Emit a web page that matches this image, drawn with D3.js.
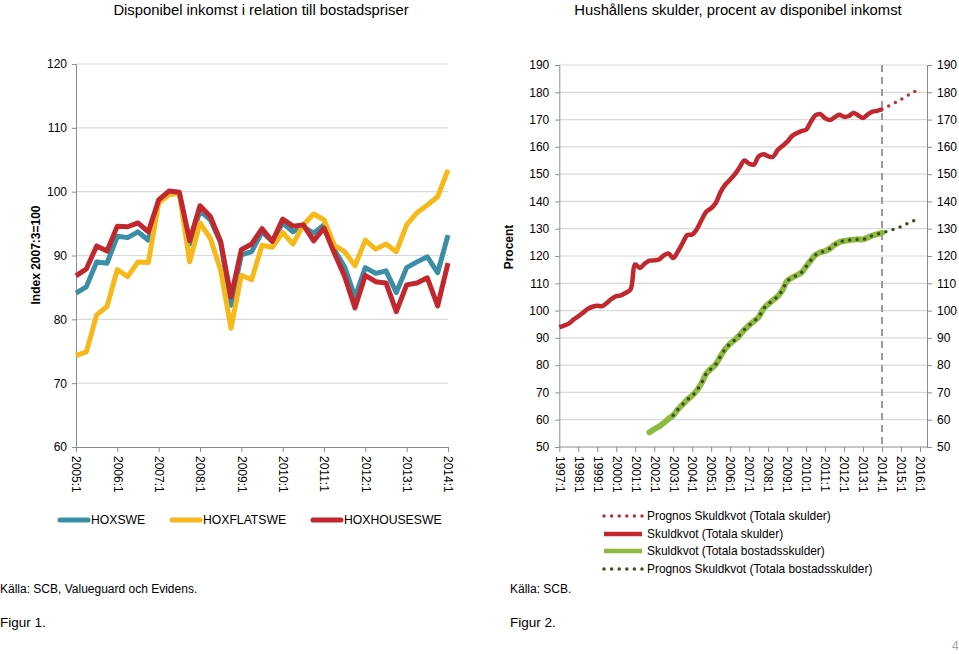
<!DOCTYPE html>
<html><head><meta charset="utf-8">
<script src="https://cdn.jsdelivr.net/npm/d3@7"></script>
<style>
body{margin:0;background:#fff;}
svg{font-family:"Liberation Sans",Arial,sans-serif;display:block;}
</style>
</head><body>
<svg id="chart" width="959" height="654"></svg>
<script>
// ---------- helpers for quarter categories ----------
function quarterRange(startYear, startQ, n){
  const out=[]; let y=startYear, q=startQ;
  for(let i=0;i<n;i++){ out.push(y+":"+q); q++; if(q>4){q=1;y++;} }
  return out;
}

// ---------- Figure 1 data (2005:1 .. 2014:1) ----------
const leftQuarters = quarterRange(2005,1,37);
const leftYearTicks = ["2005:1","2006:1","2007:1","2008:1","2009:1","2010:1","2011:1","2012:1","2013:1","2014:1"];
const leftYTicks = [60,70,80,90,100,110,120];
const hoxswe = [84.1,85.1,89.0,88.8,93.0,92.8,93.7,92.4,98.5,100.0,99.7,91.8,97.0,95.6,92.0,82.2,90.1,90.6,93.7,92.2,95.1,93.7,94.5,93.5,94.8,90.9,88.2,83.5,88.1,87.2,87.6,84.2,88.1,89.0,89.8,87.3,93.2];
const hoxflatswe = [74.3,74.9,80.7,82.0,87.8,86.7,89.0,88.9,98.2,99.5,99.8,89.0,95.1,92.7,87.7,78.6,86.9,86.2,91.6,91.3,93.6,91.8,94.8,96.5,95.6,91.6,90.6,88.4,92.4,91.0,91.8,90.6,94.8,96.7,97.9,99.2,103.4];
const hoxhouseswe = [86.8,87.9,91.5,90.7,94.6,94.5,95.1,93.7,98.7,100.1,99.9,92.3,97.8,96.1,92.2,83.5,90.9,91.8,94.2,92.2,95.7,94.6,94.8,92.3,94.3,90.4,86.7,81.8,86.9,85.9,85.7,81.2,85.4,85.7,86.5,82.1,88.8];
const leftSeriesNames = ["HOXSWE","HOXFLATSWE","HOXHOUSESWE"];

// ---------- Figure 2 data ----------
const rightQuarters = quarterRange(1997,1,80); // 1997:1 .. 2016:4
const rightYearTicks = ["1997:1","1998:1","1999:1","2000:1","2001:1","2002:1","2003:1","2004:1","2005:1","2006:1","2007:1","2008:1","2009:1","2010:1","2011:1","2012:1","2013:1","2014:1","2015:1","2016:1"];
const rightYTicks = [50,60,70,80,90,100,110,120,130,140,150,160,170,180,190];
// Skuldkvot (Totala skulder), 1997:1 .. 2014:1
const skuldStart = "1997:1";
const skuldkvotTotala = [93.9,94.5,95.2,96.7,97.9,99.2,100.6,101.4,101.8,101.6,102.8,104.3,105.3,105.6,106.5,107.7,
  116.9,115.6,117.2,118.3,118.4,118.7,120.2,120.9,119.3,121.7,124.8,127.7,127.9,129.9,133.3,136.3,137.5,139.5,
  143.5,146.2,148.0,150.0,152.5,155.0,153.8,153.5,156.5,157.3,156.6,156.3,158.8,160.3,161.8,163.9,165.0,165.8,166.3,169.2,
  171.6,172.0,170.5,169.8,170.8,171.8,171.0,171.3,172.4,171.5,170.6,171.9,172.9,173.2,173.7];
// Skuldkvot (Totala bostadsskulder), 2001:4 .. 2014:1
const bostadStart = "2001:4";
const skuldkvotBostad = [55.4,56.5,57.5,58.8,60.3,61.6,63.8,65.6,67.4,68.8,
  70.8,73.5,77.0,78.7,80.4,83.3,86.0,87.9,89.3,91.0,
  93.0,94.6,96.1,97.6,100.6,102.3,103.8,105.2,107.5,110.8,
  112.0,112.9,113.9,116.1,118.4,120.4,121.4,121.8,122.7,124.1,
  125.1,125.5,125.8,126.0,126.1,126.1,126.8,127.5,128.0,128.5];
// Prognos Skuldkvot (Totala skulder), 2014:1 .. 2016:1
const prognosSkuldStart = "2014:1";
const prognosSkuldTotala = [173.7,174.6,175.5,176.4,177.4,178.4,179.5,180.4,181.4];
// Prognos Skuldkvot (Totala bostadsskulder), 2003:1 .. 2016:1
const prognosBostadStart = "2003:1";
const prognosSkuldBostad = [61.6,63.8,65.6,67.4,68.8,
  70.8,73.5,77.0,78.7,80.4,83.3,86.0,87.9,89.3,91.0,
  93.0,94.6,96.1,97.6,100.6,102.3,103.8,105.2,107.5,110.8,
  112.0,112.9,113.9,116.1,118.4,120.4,121.4,121.8,122.7,124.1,
  125.1,125.5,125.8,126.0,126.1,126.1,126.8,127.5,128.0,128.5,
  129.0,129.6,130.1,130.8,131.6,132.4,133.2,133.8];
const forecastStartLabel = "2014:1";
const rightLegend = ["Prognos Skuldkvot (Totala skulder)","Skuldkvot (Totala skulder)","Skuldkvot (Totala bostadsskulder)","Prognos Skuldkvot (Totala bostadsskulder)"];

// ---------- styles ----------
const C = {teal:"#3a8ea6", yellow:"#f7b819", red:"#c1272d", red2:"#b8323c", green:"#8dba3f", dgreen:"#3e4d1f", grid:"#d9d9d9", axis:"#8c8c8c"};
const svg = d3.select("#chart");

// ================= FIGURE 1 =================
const xL = d3.scalePoint().domain(leftQuarters).range([76,448]);
const yL = d3.scaleLinear().domain([60,120]).range([447,64]);

svg.append("text").attr("x",261).attr("y",15).attr("text-anchor","middle").attr("font-size",14.8).text("Disponibel inkomst i relation till bostadspriser");
svg.append("text").attr("transform","translate(40,255) rotate(-90)").attr("text-anchor","middle").attr("font-size",12).attr("font-weight","bold").text("Index 2007:3=100");

svg.append("g").selectAll("line").data(leftYTicks.filter(v=>v>60)).join("line")
  .attr("x1",76).attr("x2",448).attr("y1",d=>yL(d)).attr("y2",d=>yL(d)).attr("stroke",C.grid).attr("stroke-width",1.2);

const gyL = svg.append("g").attr("transform","translate(76,0)").call(d3.axisLeft(yL).tickValues(leftYTicks).tickSize(4).tickPadding(5));
const gxL = svg.append("g").attr("transform","translate(0,447)").call(d3.axisBottom(xL).tickValues(leftYearTicks).tickSize(5));
gxL.selectAll("text").attr("x",0).attr("y",0).attr("dy","0.35em").attr("transform","translate(0,9) rotate(90)").style("text-anchor","start");

const lineL = d3.line().x((d,i)=>xL(leftQuarters[i])).y(d=>yL(d));
[[hoxswe,C.teal],[hoxflatswe,C.yellow],[hoxhouseswe,C.red]].forEach(([s,c])=>{
  svg.append("path").datum(s).attr("d",lineL).attr("fill","none").attr("stroke",c).attr("stroke-width",5).attr("stroke-linejoin","round");
});

// legend fig 1
const legL = [[58,C.teal],[170,C.yellow],[311,C.red]];
legL.forEach(([x,c],i)=>{
  svg.append("line").attr("x1",x+2).attr("x2",x+30).attr("y1",520).attr("y2",520).attr("stroke",c).attr("stroke-width",5).attr("stroke-linecap","round");
  svg.append("text").attr("x",x+33).attr("y",524).attr("font-size",12.2).text(leftSeriesNames[i]);
});
svg.append("text").attr("x",0).attr("y",593).attr("font-size",12).text("Källa: SCB, Valueguard och Evidens.");
svg.append("text").attr("x",0).attr("y",627).attr("font-size",13.5).text("Figur 1.");

// ================= FIGURE 2 =================
const qStep = (920-559.3)/76;
const xR = d3.scalePoint().domain(rightQuarters).range([559.3, 559.3+79*qStep]);
const yR = d3.scaleLinear().domain([50,190]).range([447,65]);
const xRight = 927;

svg.append("text").attr("x",738).attr("y",15).attr("text-anchor","middle").attr("font-size",14.8).text("Hushållens skulder, procent av disponibel inkomst");
svg.append("text").attr("transform","translate(513,247) rotate(-90)").attr("text-anchor","middle").attr("font-size",12).attr("font-weight","bold").text("Procent");

svg.append("g").selectAll("line").data(rightYTicks.filter(v=>v>50)).join("line")
  .attr("x1",559.3).attr("x2",xRight).attr("y1",d=>yR(d)).attr("y2",d=>yR(d)).attr("stroke",C.grid).attr("stroke-width",1.2);

svg.append("g").attr("transform","translate(559.3,0)").call(d3.axisLeft(yR).tickValues(rightYTicks).tickSize(4).tickPadding(6));
svg.append("g").attr("transform",`translate(${xRight},0)`).call(d3.axisRight(yR).tickValues(rightYTicks).tickSize(5).tickPadding(5));
const gxR = svg.append("g").attr("transform","translate(0,447)").call(d3.axisBottom(xR).tickValues(rightYearTicks).tickSize(5));
gxR.select(".domain").remove();
svg.append("line").attr("x1",559.3).attr("x2",xRight).attr("y1",447).attr("y2",447).attr("stroke",C.axis);
gxR.selectAll("text").attr("x",0).attr("y",0).attr("dy","0.35em").attr("transform","translate(0,9) rotate(90)").style("text-anchor","start");

// forecast divider
svg.append("line").attr("x1",xR(forecastStartLabel)).attr("x2",xR(forecastStartLabel)).attr("y1",65).attr("y2",447)
  .attr("stroke","#9a9a9a").attr("stroke-width",2).attr("stroke-dasharray","7,5");

function seriesPts(start, vals){
  const i0 = rightQuarters.indexOf(start);
  return vals.map((v,i)=>({q:rightQuarters[i0+i], v}));
}
const lineR = d3.line().curve(d3.curveCatmullRom.alpha(0.5)).x(d=>xR(d.q)).y(d=>yR(d.v));
svg.append("path").datum(seriesPts(skuldStart,skuldkvotTotala)).attr("d",lineR).attr("fill","none").attr("stroke",C.red).attr("stroke-width",4.5).attr("stroke-linejoin","round");
svg.append("path").datum(seriesPts(bostadStart,skuldkvotBostad)).attr("d",lineR).attr("fill","none").attr("stroke",C.green).attr("stroke-width",6).attr("stroke-linejoin","round").attr("stroke-linecap","round");
svg.append("path").datum(seriesPts(prognosBostadStart,prognosSkuldBostad)).attr("d",lineR).attr("fill","none").attr("stroke",C.dgreen).attr("stroke-width",3.5).attr("stroke-linecap","round").attr("stroke-dasharray","0,7.5");
svg.append("path").datum(seriesPts(prognosSkuldStart,prognosSkuldTotala)).attr("d",lineR).attr("fill","none").attr("stroke",C.red2).attr("stroke-width",3.5).attr("stroke-linecap","round").attr("stroke-dasharray","0,7.5");

// legend fig 2
const legR = [
  {y:516, c:C.red2, dotted:true},
  {y:534, c:C.red, dotted:false},
  {y:551, c:C.green, dotted:false},
  {y:569, c:C.dgreen, dotted:true}
];
legR.forEach((d,i)=>{
  const ln = svg.append("line").attr("x1",604).attr("x2",642).attr("y1",d.y).attr("y2",d.y).attr("stroke",d.c);
  if(d.dotted) ln.attr("stroke-width",3.5).attr("stroke-linecap","round").attr("stroke-dasharray","0,7.6");
  else ln.attr("stroke-width",4.5);
  svg.append("text").attr("x",647).attr("y",d.y+4).attr("font-size",11.9).text(rightLegend[i]);
});
svg.append("text").attr("x",510).attr("y",593).attr("font-size",12).text("Källa: SCB.");
svg.append("text").attr("x",510).attr("y",627).attr("font-size",13.5).text("Figur 2.");
svg.append("text").attr("x",952).attr("y",650).attr("font-size",12).attr("fill","#a6a6a6").text("4");

// axis styling
svg.selectAll(".domain").attr("stroke",C.axis);
svg.selectAll(".tick line").attr("stroke",C.axis);
svg.selectAll(".tick text").attr("font-size",12).attr("fill","#000").attr("font-family","'Liberation Sans',Arial,sans-serif");
</script>
</body></html>
